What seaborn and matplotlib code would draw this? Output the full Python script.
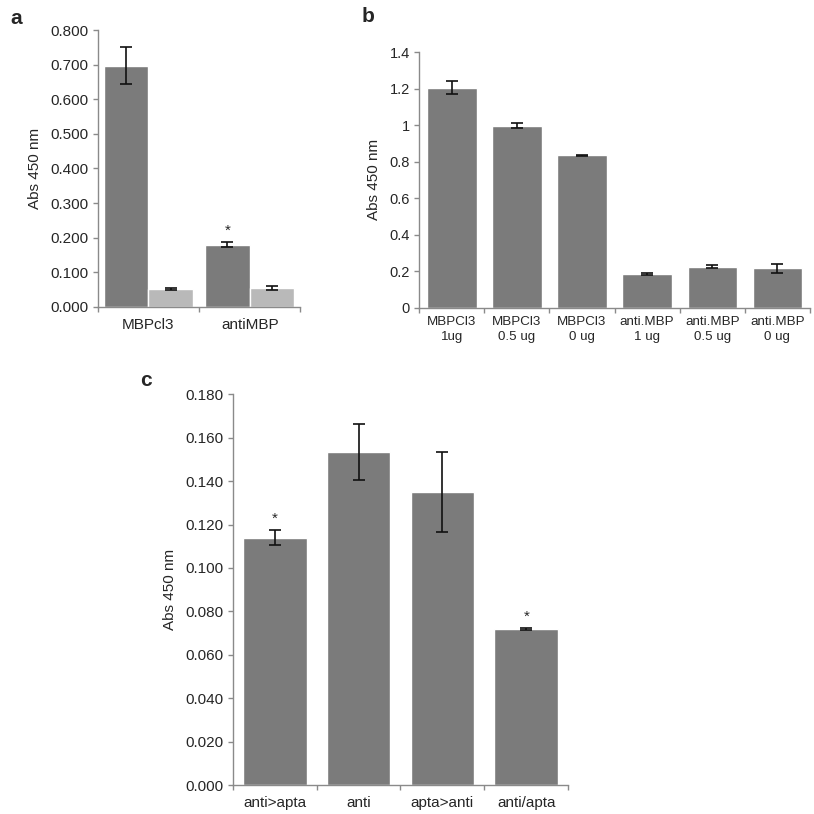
import numpy as np
import pandas as pd
import matplotlib
matplotlib.use("Agg")
import matplotlib.pyplot as plt
import seaborn as sns

# panel a
a_groups = ["MBPcl3", "antiMBP"]
a_series = ["dark", "light"]
a_values = {"dark": [0.697, 0.180], "light": [0.052, 0.055]}
a_errors = {"dark": [0.053, 0.007], "light": [0.002, 0.005]}
a_ticks = [0.0, 0.1, 0.2, 0.3, 0.4, 0.5, 0.6, 0.7, 0.8]

# panel b
b_labels = ["MBPCl3\n1ug", "MBPCl3\n0.5 ug", "MBPCl3\n0 ug",
            "anti.MBP\n1 ug", "anti.MBP\n0.5 ug", "anti.MBP\n0 ug"]
b_values = [1.205, 0.997, 0.835, 0.185, 0.225, 0.215]
b_errors = [0.035, 0.014, 0.003, 0.004, 0.008, 0.025]
b_ticks = [0, 0.2, 0.4, 0.6, 0.8, 1.0, 1.2, 1.4]

# panel c
c_labels = ["anti>apta", "anti", "apta>anti", "anti/apta"]
c_values = [0.114, 0.1535, 0.135, 0.072]
c_errors = [0.0035, 0.0128, 0.0185, 0.0004]
c_stars = [True, False, False, True]
c_ticks = [0.0, 0.02, 0.04, 0.06, 0.08, 0.1, 0.12, 0.14, 0.16, 0.18]

DARK = "#7b7b7b"
LIGHT = "#b9b9b9"
AXIS = "#8a8a8a"

sns.set_theme(style="white")
plt.rcParams['font.family'] = ['Liberation Sans', 'DejaVu Sans']


def style_axes(ax, ncat, ticks, fmt, fs=11, xfs=11):
    sns.despine(ax=ax)
    for s in ["left", "bottom"]:
        ax.spines[s].set_color(AXIS)
        ax.spines[s].set_linewidth(1.0)
    ax.set_xlim(-0.5, ncat - 0.5)
    ax.set_ylim(ticks[0], ticks[-1])
    ax.set_yticks(ticks)
    ax.set_yticklabels([fmt.format(t) for t in ticks])
    ax.set_xticks(np.arange(-0.5, ncat, 1.0), minor=True)
    ax.tick_params(axis="y", which="major", direction="out", length=3.8,
                   width=1.0, color=AXIS, labelsize=fs, pad=3, left=True)
    ax.tick_params(axis="x", which="major", length=0, labelsize=xfs, pad=8)
    ax.tick_params(axis="x", which="minor", direction="out", length=3.8,
                   width=1.0, color=AXIS, bottom=True)
    ax.set_xlabel("")
    ax.set_ylabel("Abs 450 nm", fontsize=11, labelpad=6)


def add_errorbars(ax, values, errors):
    bars = [p for p in ax.patches if p.get_height() > 0]
    bars = sorted(bars, key=lambda p: p.get_x())
    xs = [p.get_x() + p.get_width() / 2 for p in bars]
    ax.errorbar(xs, values, yerr=errors, fmt="none", ecolor="#111111",
                elinewidth=1.2, capsize=4, capthick=1.2, zorder=5)
    return xs


fig = plt.figure(figsize=(8.14, 8.14), dpi=100)

# ---- a
ax_a = fig.add_axes([0.120, 0.623, 0.249, 0.340])
df_a = pd.DataFrame({
    "group": [g for s in a_series for g in a_groups],
    "series": [s for s in a_series for g in a_groups],
    "value": [v for s in a_series for v in a_values[s]],
})
sns.barplot(data=df_a, x="group", y="value", hue="series", order=a_groups,
            hue_order=a_series, palette=[DARK, LIGHT], width=0.88,
            saturation=1, errorbar=None, legend=False, ax=ax_a)
# order errors to match patches sorted by x
a_vals_x = [a_values["dark"][0], a_values["light"][0],
            a_values["dark"][1], a_values["light"][1]]
a_errs_x = [a_errors["dark"][0], a_errors["light"][0],
            a_errors["dark"][1], a_errors["light"][1]]
xs_a = add_errorbars(ax_a, a_vals_x, a_errs_x)
style_axes(ax_a, len(a_groups), a_ticks, "{:.3f}", fs=11, xfs=11)
ax_a.text(xs_a[2], a_vals_x[2] + a_errs_x[2] + 0.012, "*", ha="center",
          va="bottom", fontsize=11)

# ---- b
ax_b = fig.add_axes([0.515, 0.622, 0.480, 0.314])
df_b = pd.DataFrame({"label": b_labels, "value": b_values})
sns.barplot(data=df_b, x="label", y="value", color=DARK, saturation=1,
            width=0.76, errorbar=None, ax=ax_b)
add_errorbars(ax_b, b_values, b_errors)
style_axes(ax_b, len(b_labels), b_ticks, "{:g}", fs=10.5, xfs=9.6)
ax_b.tick_params(axis="x", which="major", pad=6)
for lab in ax_b.get_xticklabels():
    lab.set_linespacing(1.35)

# ---- c
ax_c = fig.add_axes([0.286, 0.0356, 0.412, 0.480])
df_c = pd.DataFrame({"label": c_labels, "value": c_values})
sns.barplot(data=df_c, x="label", y="value", color=DARK, saturation=1,
            width=0.76, errorbar=None, ax=ax_c)
xs_c = add_errorbars(ax_c, c_values, c_errors)
style_axes(ax_c, len(c_labels), c_ticks, "{:.3f}", fs=11, xfs=11)
for x, v, e, s in zip(xs_c, c_values, c_errors, c_stars):
    if s:
        ax_c.text(x, v + e + 0.002, "*", ha="center", va="bottom", fontsize=11)

fig.text(10 / 814, 1 - 18 / 814, "a", fontsize=15, fontweight="bold",
         va="center", ha="left")
fig.text(362 / 814, 1 - 16 / 814, "b", fontsize=15, fontweight="bold",
         va="center", ha="left")
fig.text(140 / 814, 1 - 381 / 814, "c", fontsize=15, fontweight="bold",
         va="center", ha="left")

fig.savefig("out.png", dpi=100)
